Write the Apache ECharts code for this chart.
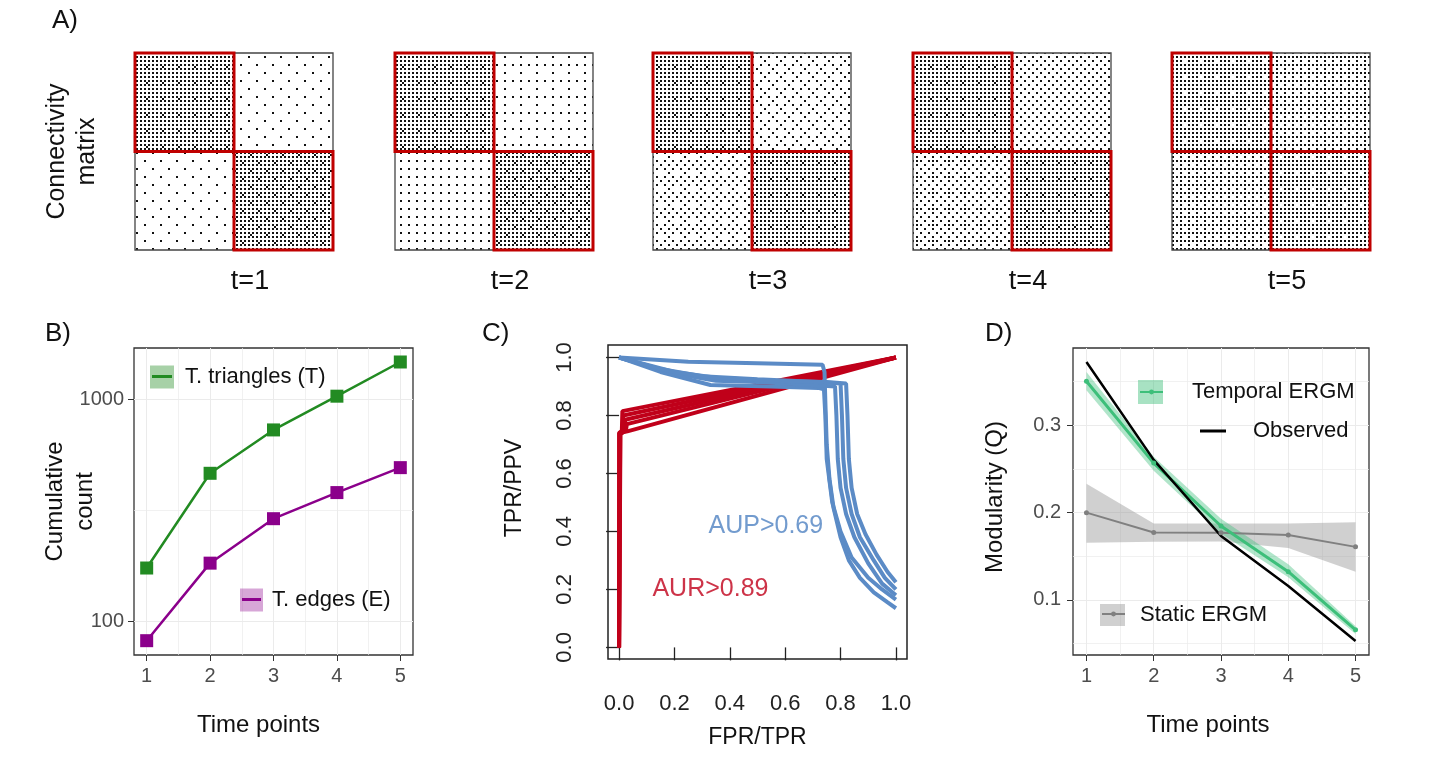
<!DOCTYPE html>
<html>
<head>
<meta charset="utf-8">
<title>Temporal ERGM figure</title>
<script src="https://cdn.jsdelivr.net/npm/echarts@6/dist/echarts.min.js"></script>
<style>
html, body { margin: 0; padding: 0; background: #fff; }
#main { width: 1437px; height: 766px; }
</style>
</head>
<body>
<div id="main"></div>
<script>
// ---------- A) connectivity matrices: edge density of each block ----------
var timeLabels = ['t=1', 't=2', 't=3', 't=4', 't=5'];
var communityBounds = [0, 50, 100];           // node index where each community starts/ends
var withinTop = [0.27, 0.27, 0.26, 0.26, 0.23];
var withinBottom = [0.28, 0.28, 0.27, 0.27, 0.23];
var betweenUpperRight = [0.025, 0.05, 0.09, 0.12, 0.18];
var betweenLowerLeft = [0.025, 0.065, 0.11, 0.14, 0.18];

// ---------- B) cumulative counts ----------
var timePoints = [1, 2, 3, 4, 5];
var triangleCounts = [174, 464, 727, 1031, 1469];
var edgeCounts = [82, 183, 290, 380, 492];
var countTicks = [100, 1000];

// ---------- C) ROC (red) and PR (blue) curves ----------
var rocCurves = [
  [[0, 0], [0, 0.74], [0.01, 0.745], [0.012, 0.815], [1, 1]],
  [[0, 0], [0.003, 0.74], [0.012, 0.75], [0.015, 0.80], [1, 1]],
  [[0, 0], [0.004, 0.735], [0.02, 0.745], [0.022, 0.785], [1, 1]],
  [[0, 0], [0.005, 0.74], [0.03, 0.745], [1, 1]],
  [[0, 0], [0.002, 0.738], [0.025, 0.75], [0.028, 0.77], [1, 1]]
];
var prCurves = [
  [[0, 1], [0.25, 0.985], [0.5, 0.98], [0.735, 0.975], [0.742, 0.95], [0.745, 0.85], [0.75, 0.7], [0.76, 0.58], [0.775, 0.48], [0.8, 0.38], [0.83, 0.3], [0.87, 0.24], [0.92, 0.19], [0.97, 0.155], [1, 0.135]],
  [[0, 1], [0.15, 0.95], [0.33, 0.905], [0.55, 0.9], [0.72, 0.895], [0.74, 0.89], [0.745, 0.8], [0.75, 0.65], [0.77, 0.5], [0.8, 0.4], [0.84, 0.31], [0.9, 0.24], [0.95, 0.2], [1, 0.165]],
  [[0, 1], [0.2, 0.945], [0.35, 0.92], [0.5, 0.915], [0.7, 0.905], [0.78, 0.9], [0.785, 0.8], [0.79, 0.65], [0.8, 0.55], [0.82, 0.46], [0.85, 0.38], [0.9, 0.29], [0.95, 0.22], [1, 0.18]],
  [[0, 1], [0.15, 0.96], [0.3, 0.935], [0.5, 0.925], [0.72, 0.915], [0.8, 0.91], [0.805, 0.8], [0.81, 0.65], [0.82, 0.55], [0.84, 0.46], [0.87, 0.38], [0.92, 0.3], [0.96, 0.24], [1, 0.2]],
  [[0, 1], [0.2, 0.95], [0.35, 0.93], [0.55, 0.92], [0.75, 0.915], [0.82, 0.91], [0.825, 0.8], [0.83, 0.65], [0.84, 0.55], [0.86, 0.46], [0.89, 0.39], [0.93, 0.32], [0.97, 0.26], [1, 0.225]]
];
var rateTicks = [0, 0.2, 0.4, 0.6, 0.8, 1.0];
var aupLabel = { name: 'AUP>0.69', value: [0.53, 0.418] };
var aurLabel = { name: 'AUR>0.89', value: [0.33, 0.201] };

// ---------- D) modularity ----------
var observedQ = [0.3725, 0.2604, 0.1733, 0.116, 0.053];
var temporalQ = [0.3505, 0.2567, 0.1847, 0.1324, 0.0658];
var temporalLow = [0.340, 0.248, 0.176, 0.126, 0.061];
var temporalHigh = [0.361, 0.264, 0.193, 0.141, 0.070];
var staticQ = [0.200, 0.1772, 0.177, 0.1745, 0.1608];
var staticLow = [0.1655, 0.1667, 0.167, 0.1596, 0.1324];
var staticHigh = [0.233, 0.1875, 0.1875, 0.1875, 0.189];
var qTicks = [0.1, 0.2, 0.3];
var qMinor = [0.05, 0.15, 0.25, 0.35];

var FONT = '"Liberation Sans", Arial, sans-serif';
var chart = echarts.init(document.getElementById('main'));

// ordered-dither tile so each block shows as a speckle of the right density
var BAYER = (function build(n) {
  if (n === 1) return [[0]];
  var m = build(n / 2), h = n / 2, out = [];
  for (var y = 0; y < n; y++) {
    out.push([]);
    for (var x = 0; x < n; x++) {
      var q = y < h ? (x < h ? 0 : 2) : (x < h ? 3 : 1);
      out[y].push(m[y % h][x % h] * 4 + q);
    }
  }
  return out;
})(8);
var tileCache = {};
function dotTile(density) {
  var key = density.toFixed(3);
  if (tileCache[key]) return tileCache[key];
  var cell = 2, n = 8;
  var cv = document.createElement('canvas');
  cv.width = cv.height = n * cell;
  var ctx = cv.getContext('2d');
  ctx.fillStyle = '#fff';
  ctx.fillRect(0, 0, cv.width, cv.height);
  ctx.fillStyle = '#111';
  var level = Math.round(density * n * n);
  for (var y = 0; y < n; y++)
    for (var x = 0; x < n; x++)
      if (BAYER[y][x] < level) ctx.fillRect(x * cell, y * cell, cell, cell);
  tileCache[key] = { image: cv, repeat: 'repeat' };
  return tileCache[key];
}

function rectFrom(api) {
  var a = api.coord([api.value(0), api.value(2)]);
  var b = api.coord([api.value(1), api.value(3)]);
  return { x: Math.min(a[0], b[0]), y: Math.min(a[1], b[1]), width: Math.abs(b[0] - a[0]), height: Math.abs(b[1] - a[1]) };
}

var grids = [], xAxes = [], yAxes = [], series = [], legends = [];
var matrixLeft = [135, 395, 653, 913, 1172];

timeLabels.forEach(function (lab, i) {
  grids.push({ left: matrixLeft[i], top: 53, width: 198, height: 197 });
  xAxes.push({
    type: 'value', gridIndex: i, min: 0, max: 100, name: lab, nameLocation: 'middle', nameGap: 18,
    nameTextStyle: { fontSize: 27, color: '#111', fontFamily: FONT, padding: [0, 0, 0, 32] },
    axisLine: { show: false }, axisTick: { show: false }, axisLabel: { show: false }, splitLine: { show: false }
  });
  yAxes.push({
    type: 'value', gridIndex: i, min: 0, max: 100, inverse: true,
    name: i === 0 ? 'Connectivity\nmatrix' : '', nameLocation: 'middle', nameGap: 33,
    nameTextStyle: { fontSize: 25, color: '#111', fontFamily: FONT, lineHeight: 30 },
    axisLine: { show: false }, axisTick: { show: false }, axisLabel: { show: false }, splitLine: { show: false }
  });
  var c = communityBounds;
  series.push({
    type: 'custom', xAxisIndex: i, yAxisIndex: i, silent: true,
    encode: { x: [0, 1], y: [2, 3] },
    data: [
      [c[0], c[1], c[0], c[1], withinTop[i]],
      [c[1], c[2], c[0], c[1], betweenUpperRight[i]],
      [c[0], c[1], c[1], c[2], betweenLowerLeft[i]],
      [c[1], c[2], c[1], c[2], withinBottom[i]]
    ],
    renderItem: function (params, api) {
      return { type: 'rect', shape: rectFrom(api), style: { fill: dotTile(api.value(4)) } };
    }
  });
  series.push({
    type: 'custom', xAxisIndex: i, yAxisIndex: i, silent: true, z: 5,
    encode: { x: [0, 1], y: [2, 3] },
    data: [
      [c[0], c[2], c[0], c[2]],
      [c[0], c[1], c[0], c[1]],
      [c[1], c[2], c[1], c[2]]
    ],
    renderItem: function (params, api) {
      var outer = params.dataIndex === 0;
      return {
        type: 'rect', shape: rectFrom(api),
        style: { fill: 'none', stroke: outer ? '#444' : '#c00000', lineWidth: outer ? 1.3 : 3 }
      };
    }
  });
});

// ---------- B ----------
var axisNameStyle = { fontSize: 24, color: '#111', fontFamily: FONT };
grids.push({ left: 134, top: 348, width: 279, height: 307, show: true, borderColor: '#333', borderWidth: 1.3, backgroundColor: 'transparent' });
xAxes.push({
  type: 'value', gridIndex: 5, min: 0.8, max: 5.2, name: 'Time points', nameLocation: 'middle', nameGap: 58,
  nameTextStyle: Object.assign({}, axisNameStyle, { padding: [0, 30, 0, 0] }),
  axisLine: { show: false },
  axisTick: { show: true, length: 6, customValues: timePoints, lineStyle: { color: '#333' } },
  axisLabel: { customValues: timePoints, margin: 11, fontSize: 20, color: '#4d4d4d', fontFamily: FONT },
  splitLine: { show: true, lineStyle: { color: '#ebebeb', width: 1 } }
});
xAxes.push({
  type: 'value', gridIndex: 5, min: 0.8, max: 5.2, position: 'top',
  axisLine: { show: false }, axisLabel: { show: false },
  axisTick: { show: false, customValues: [1.5, 2.5, 3.5, 4.5] },
  splitLine: { show: true, lineStyle: { color: '#ebebeb', width: 0.7 } }
});
yAxes.push({
  type: 'log', logBase: 10, gridIndex: 5, min: 70.7, max: 1698,
  name: 'Cumulative\ncount', nameLocation: 'middle', nameGap: 34, nameMoveOverlap: false,
  nameTextStyle: Object.assign({}, axisNameStyle, { lineHeight: 30 }),
  axisLine: { show: false },
  axisTick: { show: true, length: 6, customValues: countTicks, lineStyle: { color: '#333' } },
  axisLabel: { customValues: countTicks, margin: 10, fontSize: 20, color: '#4d4d4d', fontFamily: FONT,
    formatter: function (v) { return String(Math.round(v)); } },
  splitLine: { show: true, lineStyle: { color: '#ebebeb', width: 1 } }
});
yAxes.push({
  type: 'log', logBase: 10, gridIndex: 5, min: 70.7, max: 1698, position: 'right',
  axisLine: { show: false }, axisLabel: { show: false },
  axisTick: { show: false, customValues: [316.2] },
  splitLine: { show: true, lineStyle: { color: '#ebebeb', width: 0.7 } }
});
series.push({
  name: 'T. triangles (T)', type: 'line', xAxisIndex: 5, yAxisIndex: 5,
  data: timePoints.map(function (t, i) { return [t, triangleCounts[i]]; }),
  symbol: 'rect', symbolSize: 13, lineStyle: { width: 2.5, color: '#228b22' }, itemStyle: { color: '#228b22' }
});
series.push({
  name: 'T. edges (E)', type: 'line', xAxisIndex: 5, yAxisIndex: 5,
  data: timePoints.map(function (t, i) { return [t, edgeCounts[i]]; }),
  symbol: 'rect', symbolSize: 13, lineStyle: { width: 2.5, color: '#8b008b' }, itemStyle: { color: '#8b008b' }
});

// ---------- C ----------
grids.push({ left: 608, top: 345, width: 299, height: 314, show: true, borderColor: '#222', borderWidth: 1.5, backgroundColor: 'transparent' });
xAxes.push({
  type: 'value', gridIndex: 6, min: -0.04, max: 1.04, name: 'FPR/TPR', nameLocation: 'middle', nameGap: 67,
  nameTextStyle: { fontSize: 23, color: '#111', fontFamily: FONT },
  axisLine: { show: false },
  axisTick: { show: true, length: 13, customValues: rateTicks, lineStyle: { color: '#222', width: 1.3 } },
  axisLabel: { customValues: rateTicks, margin: 34, fontSize: 22, color: '#222', fontFamily: FONT, formatter: function (v) { return v.toFixed(1); } },
  splitLine: { show: false }
});
yAxes.push({
  type: 'value', gridIndex: 6, min: -0.04, max: 1.043, name: 'TPR/PPV', nameLocation: 'middle', nameGap: 82,
  nameTextStyle: { fontSize: 23, color: '#111', fontFamily: FONT, padding: [0, 0, 0, 28] },
  axisLine: { show: false },
  axisTick: { show: true, length: 13, customValues: rateTicks, lineStyle: { color: '#222', width: 1.3 } },
  axisLabel: { customValues: rateTicks, rotate: 90, margin: 32, fontSize: 22, color: '#222', fontFamily: FONT, formatter: function (v) { return v.toFixed(1); } },
  splitLine: { show: false }
});
rocCurves.forEach(function (curve) {
  series.push({ type: 'line', xAxisIndex: 7, yAxisIndex: 7, data: curve, symbol: 'none', silent: true,
    lineStyle: { width: 4, color: '#c0001a' } });
});
prCurves.forEach(function (curve) {
  series.push({ type: 'line', xAxisIndex: 7, yAxisIndex: 7, data: curve, symbol: 'none', silent: true,
    lineStyle: { width: 4, color: '#5b8bc6' } });
});
series.push({
  type: 'scatter', xAxisIndex: 7, yAxisIndex: 7, symbolSize: 0, silent: true,
  data: [aupLabel],
  label: { show: true, position: 'inside', formatter: '{b}', fontSize: 25, color: '#4f82c2', fontFamily: FONT }
});
series.push({
  type: 'scatter', xAxisIndex: 7, yAxisIndex: 7, symbolSize: 0, silent: true,
  data: [aurLabel],
  label: { show: true, position: 'inside', formatter: '{b}', fontSize: 25, color: '#c0001a', fontFamily: FONT }
});

// ---------- D ----------
grids.push({ left: 1073, top: 348, width: 296, height: 307, show: true, borderColor: '#333', borderWidth: 1.3, backgroundColor: 'transparent' });
xAxes.push({
  type: 'value', gridIndex: 7, min: 0.8, max: 5.2, name: 'Time points', nameLocation: 'middle', nameGap: 58,
  nameTextStyle: Object.assign({}, axisNameStyle, { padding: [0, 26, 0, 0] }),
  axisLine: { show: false },
  axisTick: { show: true, length: 6, customValues: timePoints, lineStyle: { color: '#333' } },
  axisLabel: { customValues: timePoints, margin: 11, fontSize: 20, color: '#4d4d4d', fontFamily: FONT },
  splitLine: { show: true, lineStyle: { color: '#ebebeb', width: 1 } }
});
xAxes.push({
  type: 'value', gridIndex: 7, min: 0.8, max: 5.2, position: 'top',
  axisLine: { show: false }, axisLabel: { show: false },
  axisTick: { show: false, customValues: [1.5, 2.5, 3.5, 4.5] },
  splitLine: { show: true, lineStyle: { color: '#ebebeb', width: 0.7 } }
});
yAxes.push({
  type: 'value', gridIndex: 7, min: 0.037, max: 0.3885, name: 'Modularity (Q)', nameLocation: 'middle', nameGap: 66,
  nameTextStyle: Object.assign({}, axisNameStyle, { padding: [0, 0, 0, 9] }),
  axisLine: { show: false },
  axisTick: { show: true, length: 6, customValues: qTicks, lineStyle: { color: '#333' } },
  axisLabel: { customValues: qTicks, margin: 12, fontSize: 20, color: '#4d4d4d', fontFamily: FONT, formatter: function (v) { return v.toFixed(1); } },
  splitLine: { show: true, lineStyle: { color: '#ebebeb', width: 1 } }
});
yAxes.push({
  type: 'value', gridIndex: 7, min: 0.037, max: 0.3885, position: 'right',
  axisLine: { show: false }, axisLabel: { show: false },
  axisTick: { show: false, customValues: qMinor },
  splitLine: { show: true, lineStyle: { color: '#ebebeb', width: 0.7 } }
});

function bandSeries(low, high, fill) {
  return {
    type: 'custom', xAxisIndex: 8, yAxisIndex: 8, silent: true,
    encode: { x: 0, y: [1, 2] },
    data: timePoints.map(function (t, i) { return [t, low[i], high[i]]; }),
    renderItem: function (params, api) {
      if (params.dataIndex !== 0) return null;
      var pts = [], i;
      for (i = 0; i < timePoints.length; i++) pts.push(api.coord([timePoints[i], high[i]]));
      for (i = timePoints.length - 1; i >= 0; i--) pts.push(api.coord([timePoints[i], low[i]]));
      return { type: 'polygon', shape: { points: pts }, style: { fill: fill } };
    }
  };
}
series.push(bandSeries(staticLow, staticHigh, 'rgba(150,150,150,0.45)'));
series.push(bandSeries(temporalLow, temporalHigh, 'rgba(61,191,122,0.40)'));
series.push({
  name: 'Static ERGM', type: 'line', xAxisIndex: 8, yAxisIndex: 8,
  data: timePoints.map(function (t, i) { return [t, staticQ[i]]; }),
  symbol: 'circle', symbolSize: 5, lineStyle: { width: 2, color: '#808080' }, itemStyle: { color: '#808080' }
});
series.push({
  name: 'Temporal ERGM', type: 'line', xAxisIndex: 8, yAxisIndex: 8,
  data: timePoints.map(function (t, i) { return [t, temporalQ[i]]; }),
  symbol: 'circle', symbolSize: 5, lineStyle: { width: 3, color: '#3dbf7a' }, itemStyle: { color: '#3dbf7a' }
});
series.push({
  name: 'Observed', type: 'line', xAxisIndex: 8, yAxisIndex: 8,
  data: timePoints.map(function (t, i) { return [t, observedQ[i]]; }),
  symbol: 'none', lineStyle: { width: 2.5, color: '#000' }, itemStyle: { color: '#000' }
});

// ---------- legends (key box + overlaid line) ----------
var legendText = { fontSize: 22, color: '#111', fontFamily: FONT, lineHeight: 24 };
function keyBox(name, left, top, w, h, fill, gap) {
  return {
    left: left, top: top, padding: 0, itemWidth: w, itemHeight: h, selectedMode: false,
    textStyle: Object.assign({}, legendText, { padding: [0, 0, 0, gap] }),
    data: [{ name: name, icon: 'rect', itemStyle: { color: fill } }]
  };
}
function keyLine(name, left, top, w, h, icon) {
  var l = {
    left: left, top: top, padding: 0, itemWidth: w, itemHeight: h, selectedMode: false, z: 6,
    formatter: function () { return ''; }, data: [{ name: name }]
  };
  if (icon) l.data[0].icon = icon;
  return l;
}
legends.push(keyBox('T. triangles (T)', 150, 365, 24, 23, 'rgba(34,139,34,0.4)', 6));
legends.push(keyLine('T. triangles (T)', 152, 375, 20, 3, 'rect'));
legends.push(keyBox('T. edges (E)', 240, 588, 23, 23, 'rgba(139,0,139,0.35)', 4));
legends.push(keyLine('T. edges (E)', 242, 598, 19, 3, 'rect'));
legends.push(keyBox('Temporal ERGM', 1138, 380, 25, 24, 'rgba(61,191,122,0.45)', 24));
legends.push(keyLine('Temporal ERGM', 1139, 389, 23, 6));
legends.push({
  left: 1200, top: 419, padding: 0, itemWidth: 26, itemHeight: 3, selectedMode: false, icon: 'rect',
  textStyle: Object.assign({}, legendText, { padding: [0, 0, 0, 22] }),
  data: [{ name: 'Observed', itemStyle: { color: '#000' } }]
});
legends.push(keyBox('Static ERGM', 1100, 603, 25, 22, 'rgba(150,150,150,0.45)', 10));
legends.push(keyLine('Static ERGM', 1101, 611, 23, 6));

chart.setOption({
  backgroundColor: '#fff',
  animation: false,
  title: [
    { text: 'A)', left: 52, top: 8, padding: 0, textStyle: { fontSize: 26, fontWeight: 'normal', color: '#111', fontFamily: FONT } },
    { text: 'B)', left: 45, top: 321, padding: 0, textStyle: { fontSize: 26, fontWeight: 'normal', color: '#111', fontFamily: FONT } },
    { text: 'C)', left: 482, top: 321, padding: 0, textStyle: { fontSize: 26, fontWeight: 'normal', color: '#111', fontFamily: FONT } },
    { text: 'D)', left: 985, top: 321, padding: 0, textStyle: { fontSize: 26, fontWeight: 'normal', color: '#111', fontFamily: FONT } }
  ],
  legend: legends,
  grid: grids,
  xAxis: xAxes,
  yAxis: yAxes,
  series: series
});
</script>
</body>
</html>
